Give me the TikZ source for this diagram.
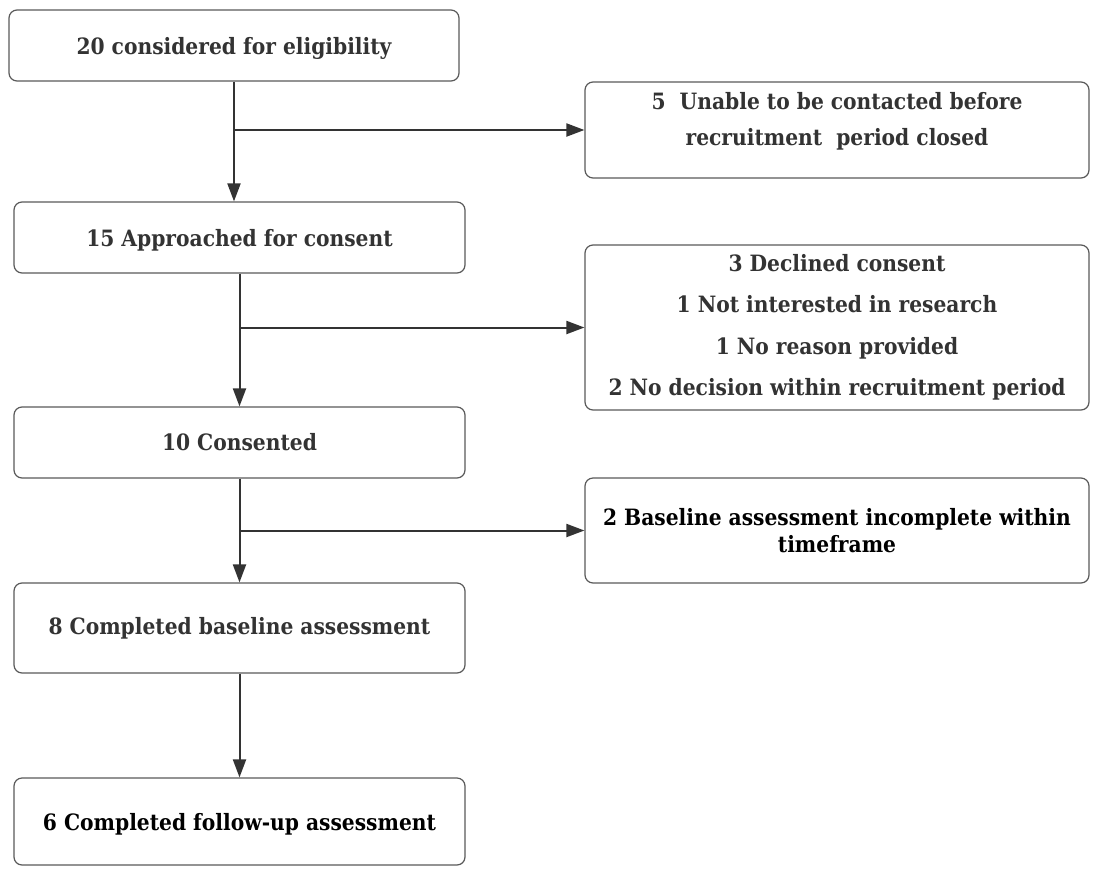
\documentclass[tikz,border=0pt]{standalone}
\usepackage{fontspec}
\setmainfont{DejaVu Serif Condensed}
\usetikzlibrary{arrows.meta}
\definecolor{boxgray}{HTML}{5A5A5A}
\definecolor{linegray}{HTML}{333333}
\definecolor{txt}{HTML}{333333}
\begin{document}
\begin{tikzpicture}[x=1pt,y=-1pt,
  box/.style={draw=boxgray, line width=1.2pt, rounded corners=8pt, fill=white,
    font=\bfseries\fontsize{22.5}{27}\selectfont, text=txt, align=center, inner sep=0pt},
  plain/.style={font=\bfseries\fontsize{22.5}{27}\selectfont, text=txt, align=center, inner sep=0pt},
  arr/.style={draw=linegray, line width=2pt, -{Triangle[length=18pt,width=13pt]}}]
\useasboundingbox (0,0) rectangle (1093,868);
\fill[white] (0,0) rectangle (1093,868);

\node[box, minimum width=450pt, minimum height=71pt, text depth=0pt] (b1) at (234,45.5) {20 considered for eligibility};
\node[box, minimum width=504pt, minimum height=96pt] (r1) at (837,130) {};
\node[plain, font=\bfseries\fontsize{22.5}{36}\selectfont] (r1t) at (837,121) {5\ \ Unable to be contacted before\\recruitment\ \ period closed};
\node[box, minimum width=451pt, minimum height=71pt, text depth=0pt] (b2) at (239.5,237.5) {15 Approached for consent};
\node[box, minimum width=504pt, minimum height=165pt, font=\bfseries\fontsize{22.5}{41.5}\selectfont] (r2) at (837,327.5) {3 Declined consent\\1 Not interested in research\\1 No reason provided\\2 No decision within recruitment period};
\node[box, minimum width=451pt, minimum height=71pt] (b3) at (239.5,442.5) {10 Consented};
\node[box, minimum width=504pt, minimum height=105pt, text=black, font=\bfseries\fontsize{22.5}{27}\selectfont] (r3) at (837,530.5) {2 Baseline assessment incomplete within\\timeframe};
\node[box, minimum width=451pt, minimum height=90pt] (b4) at (239.5,628) {8 Completed baseline assessment};
\node[box, minimum width=451pt, minimum height=87pt, text=black, text depth=0pt] (b5) at (239.5,821.5) {6 Completed follow-up assessment};

\draw[arr] (b1.south) -- (b1.south |- b2.north);
\draw[arr] (b1.south |- r1.west) -- (r1.west);
\draw[arr] (b2.south) -- (b3.north);
\draw[arr] (b2.south |- r2.west) -- (r2.west);
\draw[arr] (b3.south) -- (b4.north);
\draw[arr] (b3.south |- r3.west) -- (r3.west);
\draw[arr] (b4.south) -- (b5.north);
\end{tikzpicture}
\end{document}
